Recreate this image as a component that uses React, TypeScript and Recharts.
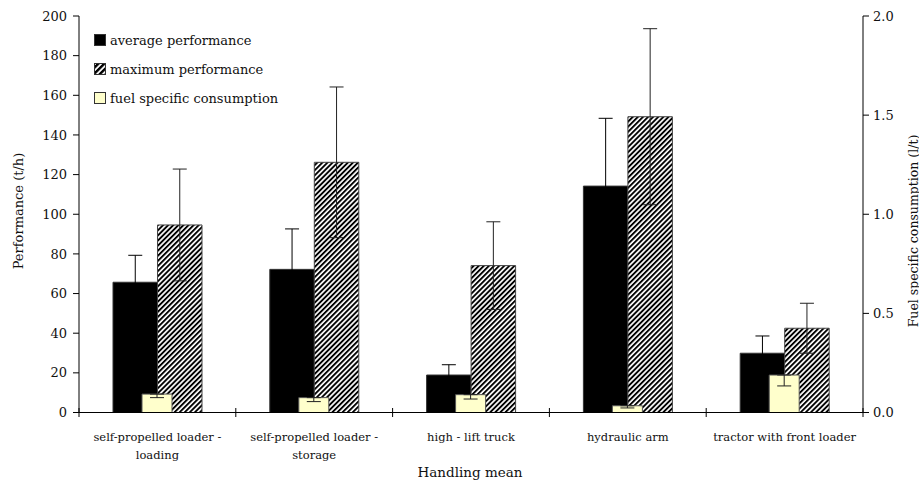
import React from 'react';
import { ComposedChart, Bar, XAxis, YAxis, ErrorBar } from 'recharts';

const categories = [
  'self-propelled loader -\nloading',
  'self-propelled loader -\nstorage',
  'high - lift truck',
  'hydraulic arm',
  'tractor with front loader',
];

// performance, t/h
const avgPerformance = [65.7, 72.2, 18.9, 114.2, 29.9];
const avgPerformanceErr = [13.6, 20.4, 5.2, 34.2, 8.7];
const maxPerformance = [94.6, 126.2, 74.1, 149.2, 42.5];
const maxPerformanceErr = [28.2, 38, 22.1, 44.4, 12.6];

// fuel specific consumption, l/t (error drawn below the bar only)
const fuelConsumption = [0.093, 0.075, 0.09, 0.034, 0.189];
const fuelConsumptionErr = [0.018, 0.02, 0.022, 0.011, 0.055];

const leftTicks = [0, 20, 40, 60, 80, 100, 120, 140, 160, 180, 200];
const rightTicks = [0, 0.5, 1, 1.5, 2];

const data = categories.map((name, i) => ({
  name,
  avg: avgPerformance[i],
  avgErr: avgPerformanceErr[i],
  max: maxPerformance[i],
  maxErr: maxPerformanceErr[i],
  fuel: fuelConsumption[i],
  fuelErr: [fuelConsumptionErr[i], 0],
}));

const FONT = '"DejaVu Serif", serif';
const W = 919;
const H = 486;
const PLOT_LEFT = 79;
const PLOT_RIGHT = 863;
const PLOT_TOP = 16;
const PLOT_BOTTOM = 412.5;
const BAND = (PLOT_RIGHT - PLOT_LEFT) / categories.length;

const CategoryTick = (props: any) => {
  const { x, payload, index } = props;
  const lines = String(payload.value).split('\n');
  const left = x - BAND / 2;
  return (
    <g>
      <line x1={left} x2={left} y1={PLOT_BOTTOM - 4.5} y2={PLOT_BOTTOM + 4.5} stroke="#000" />
      {index === categories.length - 1 && (
        <line x1={left + BAND} x2={left + BAND} y1={PLOT_BOTTOM - 4.5} y2={PLOT_BOTTOM + 4.5} stroke="#000" />
      )}
      {lines.map((ln, k) => (
        <text
          key={k}
          x={x}
          y={437 + k * 18}
          textAnchor="middle"
          dominantBaseline="central"
          fontFamily={FONT}
          fontSize={11.5}
          fill="#111"
        >
          {ln}
        </text>
      ))}
    </g>
  );
};

const legendItems = [
  { label: 'average performance', fill: '#000' },
  { label: 'maximum performance', fill: 'url(#hatchLegend)' },
  { label: 'fuel specific consumption', fill: '#FFFFCC' },
];

export default function App() {
  return (
    <div style={{ position: 'absolute', left: 0, top: 0, width: W, height: H, background: '#fff' }}>
      <ComposedChart
        width={W}
        height={H}
        data={data}
        margin={{ top: PLOT_TOP, right: 0, left: 0, bottom: 0 }}
        barGap={0}
      >
        <defs>
          <pattern id="hatch" patternUnits="userSpaceOnUse" width="3.6" height="3.6" patternTransform="rotate(45)">
            <rect width="3.6" height="3.6" fill="#fff" />
            <rect width="1.9" height="3.6" fill="#000" />
          </pattern>
          <pattern id="hatchLegend" patternUnits="userSpaceOnUse" width="4.2" height="4.2" patternTransform="rotate(45)">
            <rect width="4.2" height="4.2" fill="#fff" />
            <rect width="2.4" height="4.2" fill="#000" />
          </pattern>
        </defs>

        <XAxis
          xAxisId="main"
          dataKey="name"
          height={H - PLOT_BOTTOM}
          interval={0}
          tickLine={false}
          axisLine={{ stroke: '#000' }}
          tick={<CategoryTick />}
        />
        {/* separate band axis so the fuel bars sit centred over each group */}
        <XAxis xAxisId="fuel" dataKey="name" orientation="top" height={0} hide />
        <YAxis
          yAxisId="left"
          width={PLOT_LEFT}
          domain={[0, 200]}
          ticks={leftTicks}
          interval={0}
          tickSize={6}
          tickMargin={6}
          axisLine={{ stroke: '#000' }}
          tickLine={{ stroke: '#000' }}
          tick={{ fontFamily: FONT, fontSize: 13, fill: '#111' }}
        />
        <YAxis
          yAxisId="right"
          orientation="right"
          width={W - PLOT_RIGHT}
          domain={[0, 2]}
          ticks={rightTicks}
          interval={0}
          tickSize={6}
          tickMargin={4}
          tickFormatter={(v: number) => v.toFixed(1)}
          axisLine={{ stroke: '#000' }}
          tickLine={{ stroke: '#000' }}
          tick={{ fontFamily: FONT, fontSize: 13, fill: '#111', textAnchor: 'start' }}
        />

        <Bar
          xAxisId="main"
          yAxisId="left"
          dataKey="avg"
          name="average performance"
          barSize={44.5}
          fill="#000"
          stroke="#333"
          strokeWidth={1}
          isAnimationActive={false}
        >
          <ErrorBar dataKey="avgErr" direction="y" width={7} stroke="#000" strokeWidth={1} isAnimationActive={false} />
        </Bar>
        <Bar
          xAxisId="main"
          yAxisId="left"
          dataKey="max"
          name="maximum performance"
          barSize={44.5}
          fill="url(#hatch)"
          stroke="#444"
          strokeWidth={1}
          isAnimationActive={false}
        >
          <ErrorBar dataKey="maxErr" direction="y" width={7} stroke="#222" strokeWidth={1} isAnimationActive={false} />
        </Bar>
        <Bar
          xAxisId="fuel"
          yAxisId="right"
          dataKey="fuel"
          name="fuel specific consumption"
          barSize={30}
          fill="#FFFFCC"
          stroke="#555"
          strokeWidth={1}
          isAnimationActive={false}
        >
          <ErrorBar dataKey="fuelErr" direction="y" width={7} stroke="#222" strokeWidth={1} isAnimationActive={false} />
        </Bar>

        {/* axis titles */}
        <text
          x={18}
          y={211}
          transform="rotate(-90 18 211)"
          textAnchor="middle"
          dominantBaseline="central"
          fontFamily={FONT}
          fontSize={13}
          fill="#111"
        >
          Performance (t/h)
        </text>
        <text
          x={913}
          y={231}
          transform="rotate(-90 913 231)"
          textAnchor="middle"
          dominantBaseline="central"
          fontFamily={FONT}
          fontSize={12.5}
          fill="#111"
        >
          Fuel specific consumption (l/t)
        </text>
        <text x={470} y={472} textAnchor="middle" dominantBaseline="central" fontFamily={FONT} fontSize={13.5} fill="#111">
          Handling mean
        </text>

        {/* legend */}
        <g>
          {legendItems.map((item, i) => (
            <g key={item.label}>
              <rect x={94.5} y={34.5 + i * 29} width={11} height={11} fill={item.fill} stroke="#333" strokeWidth={1} />
              <text
                x={110}
                y={40 + i * 29}
                dominantBaseline="central"
                fontFamily={FONT}
                fontSize={13}
                fill="#111"
              >
                {item.label}
              </text>
            </g>
          ))}
        </g>
      </ComposedChart>
    </div>
  );
}
